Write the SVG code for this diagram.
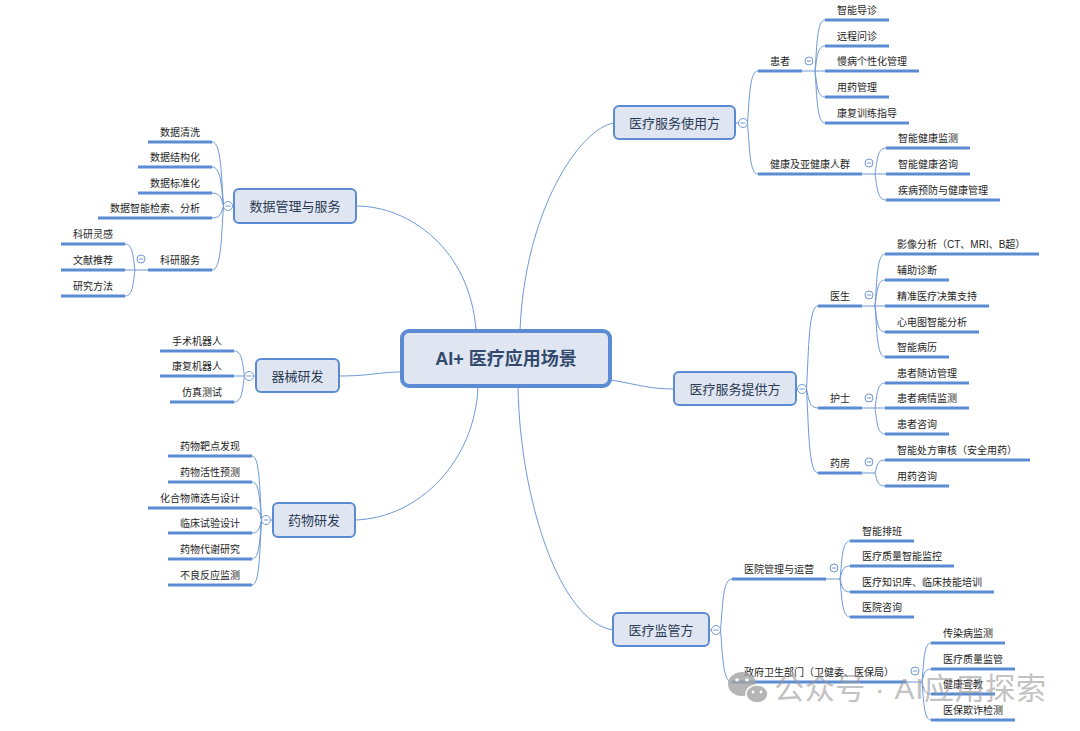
<svg xmlns="http://www.w3.org/2000/svg" width="1080" height="731" viewBox="0 0 1080 731">
<style>
text{font-family:"Liberation Sans","Noto Sans CJK SC",sans-serif}
.t{font-size:10px;fill:#1e1e1e}
.te{font-size:10px;fill:#1e1e1e;text-anchor:end}
.mt{font-size:13px;fill:#2b3a55;text-anchor:middle}
.ct{font-size:18px;font-weight:bold;fill:#33496e;text-anchor:middle}
.nr{fill:#dfe6f1;stroke:#5b8bd3;stroke-width:2}
.cr{fill:#dfe6f1;stroke:#5b8bd3;stroke-width:4}
.ul{stroke:#5b8bd3;stroke-width:3;fill:none}
.ln{stroke:#6e98d6;stroke-width:1;fill:none}
.tg{fill:#fff;stroke:#6e98d6;stroke-width:1}
.wm{font-size:30px;fill:#9a9a9a;opacity:0.75}
</style>
<defs>
<g id="tog"><circle class="tg" r="4.5"/><line class="ln" x1="-2.5" y1="0" x2="2.5" y2="0"/></g>
<g id="tos"><circle class="tg" r="4"/><line class="ln" x1="-2.2" y1="0" x2="2.2" y2="0"/></g>
</defs>

<g id="connectors">
<path class="ln" d="M520,330 C525,210 580,128 614,123"/>
<path class="ln" d="M611,380 C640,385 650,389 674,389"/>
<path class="ln" d="M518,387 C520,500 560,622 613,630"/>
<path class="ln" d="M476,330 C470,250 410,206 356,206"/>
<path class="ln" d="M401,372 C380,372 370,376 339,376"/>
<path class="ln" d="M478,387 C475,460 420,518 355,520"/>
<path class="ln" d="M735,123 H738.5"/>
<path class="ln" d="M747.5,123 C749.6,97 749.6,71 758,71"/>
<path class="ln" d="M747.5,123 C749.6,148.5 749.6,174 758,174"/>
<path class="ln" d="M802,71 H815"/>
<path class="ln" d="M815,71 C817,45.5 817,20 825,20"/>
<path class="ln" d="M815,71 C817,58.5 817,46 825,46"/>
<path class="ln" d="M815,71 H825"/>
<path class="ln" d="M815,71 C817,84 817,97 825,97"/>
<path class="ln" d="M815,71 C817,97 817,123 825,123"/>
<path class="ln" d="M862,174 H875"/>
<path class="ln" d="M875,174 C877.2,161 877.2,148 886,148"/>
<path class="ln" d="M875,174 H886"/>
<path class="ln" d="M875,174 C877.2,187 877.2,200 886,200"/>
<path class="ln" d="M796,389 H797.5"/>
<path class="ln" d="M806.5,389 C808.8,347.5 808.8,306 818,306"/>
<path class="ln" d="M806.5,389 C808.8,398.5 808.8,408 818,408"/>
<path class="ln" d="M806.5,389 C808.8,431 808.8,473 818,473"/>
<path class="ln" d="M862,306 H875"/>
<path class="ln" d="M875,306 C877,280 877,254 885,254"/>
<path class="ln" d="M875,306 C877,293 877,280 885,280"/>
<path class="ln" d="M875,306 H885"/>
<path class="ln" d="M875,306 C877,319 877,332 885,332"/>
<path class="ln" d="M875,306 C877,331.5 877,357 885,357"/>
<path class="ln" d="M862,408 H875"/>
<path class="ln" d="M875,408 C877,395.5 877,383 885,383"/>
<path class="ln" d="M875,408 H885"/>
<path class="ln" d="M875,408 C877,421 877,434 885,434"/>
<path class="ln" d="M862,473 H875"/>
<path class="ln" d="M875,473 C877,466.5 877,460 885,460"/>
<path class="ln" d="M875,473 C877,479.5 877,486 885,486"/>
<path class="ln" d="M709,630 H711.5"/>
<path class="ln" d="M720.5,630 C722.8,604.5 722.8,579 732,579"/>
<path class="ln" d="M720.5,630 C722.8,656 722.8,682 732,682"/>
<path class="ln" d="M826,579 H840"/>
<path class="ln" d="M840,579 C842,560 842,541 850,541"/>
<path class="ln" d="M840,579 C842,572.5 842,566 850,566"/>
<path class="ln" d="M840,579 C842,585.5 842,592 850,592"/>
<path class="ln" d="M840,579 C842,598 842,617 850,617"/>
<path class="ln" d="M906,682 H922"/>
<path class="ln" d="M922,682 C923.8,662.5 923.8,643 931,643"/>
<path class="ln" d="M922,682 C923.8,675.5 923.8,669 931,669"/>
<path class="ln" d="M922,682 C923.8,688 923.8,694 931,694"/>
<path class="ln" d="M922,682 C923.8,701 923.8,720 931,720"/>
<path class="ln" d="M234,206 H232.5"/>
<path class="ln" d="M223.5,206 C221.2,174 221.2,142 212,142"/>
<path class="ln" d="M223.5,206 C221.2,186.5 221.2,167 212,167"/>
<path class="ln" d="M223.5,206 C221.2,199.5 221.2,193 212,193"/>
<path class="ln" d="M223.5,206 C221.2,212 221.2,218 212,218"/>
<path class="ln" d="M223.5,206 C221.2,238 221.2,270 212,270"/>
<path class="ln" d="M148,270 H135"/>
<path class="ln" d="M135,270 C133,257 133,244 125,244"/>
<path class="ln" d="M135,270 H125"/>
<path class="ln" d="M135,270 C133,283 133,296 125,296"/>
<path class="ln" d="M256,376 H253.5"/>
<path class="ln" d="M244.5,376 C242.4,363.5 242.4,351 234,351"/>
<path class="ln" d="M244.5,376 H234"/>
<path class="ln" d="M244.5,376 C242.4,389 242.4,402 234,402"/>
<path class="ln" d="M273,520 H270.5"/>
<path class="ln" d="M261.5,520 C259.6,488 259.6,456 252,456"/>
<path class="ln" d="M261.5,520 C259.6,501 259.6,482 252,482"/>
<path class="ln" d="M261.5,520 C259.6,514 259.6,508 252,508"/>
<path class="ln" d="M261.5,520 C259.6,526.5 259.6,533 252,533"/>
<path class="ln" d="M261.5,520 C259.6,539.5 259.6,559 252,559"/>
<path class="ln" d="M261.5,520 C259.6,552.5 259.6,585 252,585"/>
</g>

<g id="center">
<rect class="cr" x="402" y="331" width="208" height="55" rx="7"/>
<text class="ct" x="506" y="365">AI+ 医疗应用场景</text>
</g>

<g id="n-users">
<rect class="nr" x="614" y="106" width="121" height="33" rx="5"/>
<text class="mt" x="674.5" y="127.5">医疗服务使用方</text>
<use href="#tog" x="743" y="123"/>
</g>
<g id="n-patient">
<line class="ul" x1="758" y1="71" x2="802" y2="71"/><text class="t" x="770" y="65">患者</text>
<use href="#tos" x="809" y="61"/>
</g>
<g id="l-u1"><line class="ul" x1="825" y1="20" x2="889" y2="20"/><text class="t" x="837" y="14">智能导诊</text></g>
<g id="l-u2"><line class="ul" x1="825" y1="46" x2="889" y2="46"/><text class="t" x="837" y="40">远程问诊</text></g>
<g id="l-u3"><line class="ul" x1="825" y1="71" x2="919" y2="71"/><text class="t" x="837" y="65">慢病个性化管理</text></g>
<g id="l-u4"><line class="ul" x1="825" y1="97" x2="889" y2="97"/><text class="t" x="837" y="91">用药管理</text></g>
<g id="l-u5"><line class="ul" x1="825" y1="123" x2="909" y2="123"/><text class="t" x="837" y="117">康复训练指导</text></g>
<g id="n-healthy">
<line class="ul" x1="758" y1="174" x2="862" y2="174"/><text class="t" x="770" y="168">健康及亚健康人群</text>
<use href="#tos" x="869" y="163"/>
</g>
<g id="l-h1"><line class="ul" x1="886" y1="148" x2="970" y2="148"/><text class="t" x="898" y="142">智能健康监测</text></g>
<g id="l-h2"><line class="ul" x1="886" y1="174" x2="970" y2="174"/><text class="t" x="898" y="168">智能健康咨询</text></g>
<g id="l-h3"><line class="ul" x1="886" y1="200" x2="1000" y2="200"/><text class="t" x="898" y="194">疾病预防与健康管理</text></g>

<g id="n-providers">
<rect class="nr" x="674" y="372" width="122" height="33" rx="5"/>
<text class="mt" x="735" y="393.5">医疗服务提供方</text>
<use href="#tog" x="802" y="389"/>
</g>
<g id="n-doctor">
<line class="ul" x1="818" y1="306" x2="862" y2="306"/><text class="t" x="830" y="300">医生</text>
<use href="#tos" x="869" y="295"/>
</g>
<g id="l-d1"><line class="ul" x1="885" y1="254" x2="1039" y2="254"/><text class="t" x="897" y="248">影像分析（CT、MRI、B超）</text></g>
<g id="l-d2"><line class="ul" x1="885" y1="280" x2="949" y2="280"/><text class="t" x="897" y="274">辅助诊断</text></g>
<g id="l-d3"><line class="ul" x1="885" y1="306" x2="989" y2="306"/><text class="t" x="897" y="300">精准医疗决策支持</text></g>
<g id="l-d4"><line class="ul" x1="885" y1="332" x2="979" y2="332"/><text class="t" x="897" y="326">心电图智能分析</text></g>
<g id="l-d5"><line class="ul" x1="885" y1="357" x2="949" y2="357"/><text class="t" x="897" y="351">智能病历</text></g>
<g id="n-nurse">
<line class="ul" x1="818" y1="408" x2="862" y2="408"/><text class="t" x="830" y="402">护士</text>
<use href="#tos" x="869" y="398"/>
</g>
<g id="l-n1"><line class="ul" x1="885" y1="383" x2="969" y2="383"/><text class="t" x="897" y="377">患者随访管理</text></g>
<g id="l-n2"><line class="ul" x1="885" y1="408" x2="969" y2="408"/><text class="t" x="897" y="402">患者病情监测</text></g>
<g id="l-n3"><line class="ul" x1="885" y1="434" x2="949" y2="434"/><text class="t" x="897" y="428">患者咨询</text></g>
<g id="n-pharmacy">
<line class="ul" x1="818" y1="473" x2="862" y2="473"/><text class="t" x="830" y="467">药房</text>
<use href="#tos" x="869" y="462"/>
</g>
<g id="l-p1"><line class="ul" x1="885" y1="460" x2="1030" y2="460"/><text class="t" x="897" y="454">智能处方审核（安全用药）</text></g>
<g id="l-p2"><line class="ul" x1="885" y1="486" x2="949" y2="486"/><text class="t" x="897" y="480">用药咨询</text></g>

<g id="n-regulator">
<rect class="nr" x="613" y="613" width="96" height="33" rx="5"/>
<text class="mt" x="661" y="634.5">医疗监管方</text>
<use href="#tog" x="716" y="630"/>
</g>
<g id="n-hospital">
<line class="ul" x1="732" y1="579" x2="826" y2="579"/><text class="t" x="744" y="573">医院管理与运营</text>
<use href="#tos" x="834" y="568"/>
</g>
<g id="l-m1"><line class="ul" x1="850" y1="541" x2="914" y2="541"/><text class="t" x="862" y="535">智能排班</text></g>
<g id="l-m2"><line class="ul" x1="850" y1="566" x2="954" y2="566"/><text class="t" x="862" y="560">医疗质量智能监控</text></g>
<g id="l-m3"><line class="ul" x1="850" y1="592" x2="994" y2="592"/><text class="t" x="862" y="586">医疗知识库、临床技能培训</text></g>
<g id="l-m4"><line class="ul" x1="850" y1="617" x2="914" y2="617"/><text class="t" x="862" y="611">医院咨询</text></g>
<g id="n-gov">
<line class="ul" x1="732" y1="682" x2="906" y2="682"/><text class="t" x="744" y="676">政府卫生部门（卫健委、医保局）</text>
<use href="#tos" x="915" y="671"/>
</g>
<g id="l-g1"><line class="ul" x1="931" y1="643" x2="1005" y2="643"/><text class="t" x="943" y="637">传染病监测</text></g>
<g id="l-g2"><line class="ul" x1="931" y1="669" x2="1015" y2="669"/><text class="t" x="943" y="663">医疗质量监管</text></g>
<g id="l-g3"><line class="ul" x1="931" y1="694" x2="995" y2="694"/><text class="t" x="943" y="688">健康宣教</text></g>
<g id="l-g4"><line class="ul" x1="931" y1="720" x2="1015" y2="720"/><text class="t" x="943" y="714">医保欺诈检测</text></g>

<g id="n-data">
<rect class="nr" x="234" y="189" width="122" height="34" rx="5"/>
<text class="mt" x="295" y="210.5">数据管理与服务</text>
<use href="#tog" x="228" y="206"/>
</g>
<g id="l-a1"><line class="ul" x1="148" y1="142" x2="212" y2="142"/><text class="te" x="200" y="136">数据清洗</text></g>
<g id="l-a2"><line class="ul" x1="138" y1="167" x2="212" y2="167"/><text class="te" x="200" y="161">数据结构化</text></g>
<g id="l-a3"><line class="ul" x1="138" y1="193" x2="212" y2="193"/><text class="te" x="200" y="187">数据标准化</text></g>
<g id="l-a4"><line class="ul" x1="98" y1="218" x2="212" y2="218"/><text class="te" x="200" y="212">数据智能检索、分析</text></g>
<g id="n-research">
<line class="ul" x1="148" y1="270" x2="212" y2="270"/><text class="te" x="200" y="264">科研服务</text>
<use href="#tos" x="141" y="259"/>
</g>
<g id="l-r1"><line class="ul" x1="61" y1="244" x2="125" y2="244"/><text class="te" x="113" y="238">科研灵感</text></g>
<g id="l-r2"><line class="ul" x1="61" y1="270" x2="125" y2="270"/><text class="te" x="113" y="264">文献推荐</text></g>
<g id="l-r3"><line class="ul" x1="61" y1="296" x2="125" y2="296"/><text class="te" x="113" y="290">研究方法</text></g>

<g id="n-device">
<rect class="nr" x="256" y="359" width="83" height="33" rx="5"/>
<text class="mt" x="297.5" y="380.5">器械研发</text>
<use href="#tog" x="249" y="376"/>
</g>
<g id="l-e1"><line class="ul" x1="160" y1="351" x2="234" y2="351"/><text class="te" x="222" y="345">手术机器人</text></g>
<g id="l-e2"><line class="ul" x1="160" y1="376" x2="234" y2="376"/><text class="te" x="222" y="370">康复机器人</text></g>
<g id="l-e3"><line class="ul" x1="170" y1="402" x2="234" y2="402"/><text class="te" x="222" y="396">仿真测试</text></g>

<g id="n-drug">
<rect class="nr" x="273" y="503" width="82" height="34" rx="5"/>
<text class="mt" x="314" y="524.5">药物研发</text>
<use href="#tog" x="266" y="520"/>
</g>
<g id="l-f1"><line class="ul" x1="168" y1="456" x2="252" y2="456"/><text class="te" x="240" y="450">药物靶点发现</text></g>
<g id="l-f2"><line class="ul" x1="168" y1="482" x2="252" y2="482"/><text class="te" x="240" y="476">药物活性预测</text></g>
<g id="l-f3"><line class="ul" x1="148" y1="508" x2="252" y2="508"/><text class="te" x="240" y="502">化合物筛选与设计</text></g>
<g id="l-f4"><line class="ul" x1="168" y1="533" x2="252" y2="533"/><text class="te" x="240" y="527">临床试验设计</text></g>
<g id="l-f5"><line class="ul" x1="168" y1="559" x2="252" y2="559"/><text class="te" x="240" y="553">药物代谢研究</text></g>
<g id="l-f6"><line class="ul" x1="168" y1="585" x2="252" y2="585"/><text class="te" x="240" y="579">不良反应监测</text></g>

<g id="watermark" opacity="0.8">
<ellipse cx="742" cy="684" rx="14" ry="12" fill="#a3a3a3"/>
<ellipse cx="757" cy="694" rx="11" ry="9" fill="#a3a3a3" stroke="#fff" stroke-width="1.5"/>
<circle cx="737" cy="680" r="1.8" fill="#fff"/>
<circle cx="747" cy="680" r="1.8" fill="#fff"/>
<circle cx="753" cy="692" r="1.4" fill="#fff"/>
<circle cx="761" cy="692" r="1.4" fill="#fff"/>
<text class="wm" x="774" y="699" textLength="272">公众号 · AI应用探索</text>
</g>
</svg>
